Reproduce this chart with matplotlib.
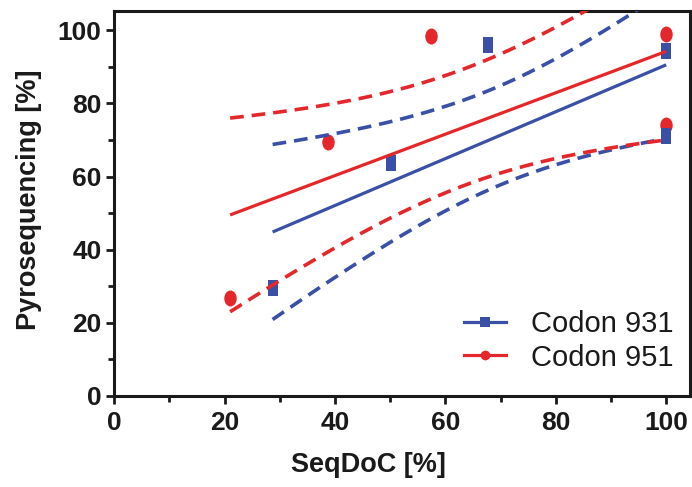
import numpy as np
import matplotlib
matplotlib.use('Agg')
import matplotlib.pyplot as plt
from matplotlib.path import Path
from matplotlib.transforms import Affine2D
from matplotlib.lines import Line2D
from matplotlib.ticker import MultipleLocator

# ---- data ----
series_names = ['Codon 931', 'Codon 951']
seqdoc_931 = [28.7, 50.2, 67.8, 100.0, 100.0]
pyro_931 = [29.6, 63.6, 95.9, 94.3, 71.0]
seqdoc_951 = [21.0, 38.8, 57.4, 100.0, 100.0]
pyro_951 = [26.7, 69.3, 98.4, 99.0, 74.2]
x_ticks = [0, 20, 40, 60, 80, 100]
y_ticks = [0, 20, 40, 60, 80, 100]
band_multiplier = 1.44

BLUE = '#3a4fa6'
RED = '#e4272b'

plt.rcParams['font.family'] = ['Liberation Sans', 'DejaVu Sans']

fig = plt.figure(figsize=(6.92, 4.87), dpi=100)
ax = fig.add_axes([0.165, 0.187, 0.832, 0.790])


def fit_band(x, y, mult):
    x = np.asarray(x, float)
    y = np.asarray(y, float)
    n = len(x)
    slope, intercept = np.polyfit(x, y, 1)
    xm = x.mean()
    sxx = ((x - xm) ** 2).sum()
    resid = y - (slope * x + intercept)
    s = np.sqrt((resid ** 2).sum() / (n - 2))
    xx = np.linspace(x.min(), x.max(), 200)
    yy = slope * xx + intercept
    hw = mult * s * np.sqrt(1.0 / n + (xx - xm) ** 2 / sxx)
    return xx, yy, yy - hw, yy + hw


sq_marker = Path([(-0.62, -1), (0.62, -1), (0.62, 1), (-0.62, 1), (-0.62, -1)],
                 [Path.MOVETO, Path.LINETO, Path.LINETO, Path.LINETO, Path.CLOSEPOLY])
circ_marker = Path.unit_circle().transformed(Affine2D().scale(0.78, 1.0))

# markers (red first, blue over it)
ax.plot(seqdoc_951, pyro_951, linestyle='none', marker=circ_marker, markersize=11.5,
        color=RED, markeredgewidth=0, zorder=3)
ax.plot(seqdoc_931, pyro_931, linestyle='none', marker=sq_marker, markersize=11.5,
        color=BLUE, markeredgewidth=0, zorder=4)

for xs, ys, col in [(seqdoc_931, pyro_931, BLUE), (seqdoc_951, pyro_951, RED)]:
    xx, yy, lo, hi = fit_band(xs, ys, band_multiplier)
    ax.plot(xx, yy, color=col, lw=2.3, solid_capstyle='butt', zorder=5)
    for band in (lo, hi):
        ax.plot(xx, band, color=col, lw=2.6, linestyle=(0, (3.8, 2.2)),
                dash_capstyle='butt', zorder=5)

ax.set_xlim(0, 104.3)
ax.set_ylim(0, 105.2)
ax.set_xticks(x_ticks)
ax.set_yticks(y_ticks)
ax.xaxis.set_minor_locator(MultipleLocator(10))
ax.yaxis.set_minor_locator(MultipleLocator(10))

for sp in ax.spines.values():
    sp.set_linewidth(2.2)
    sp.set_color('#1a1a1a')

ax.tick_params(axis='both', which='major', direction='out', length=6, width=2,
               color='#1a1a1a', labelsize=19, pad=3)
ax.tick_params(axis='x', which='major', pad=5)
ax.tick_params(axis='both', which='minor', direction='out', length=4, width=2,
               color='#1a1a1a')
for lab in ax.get_xticklabels() + ax.get_yticklabels():
    lab.set_fontweight('bold')
    lab.set_color('#1a1a1a')

ax.set_xlabel('SeqDoC [%]', fontsize=19.5, fontweight='bold', color='#1a1a1a')
ax.set_ylabel('Pyrosequencing [%]', fontsize=19.5, fontweight='bold', color='#1a1a1a')
ax.xaxis.set_label_coords(0.441, -0.145)
ax.yaxis.set_label_coords(-0.125, 0.51)

handles = [
    Line2D([], [], color=BLUE, lw=2.3, marker='s', markersize=7, markeredgewidth=0),
    Line2D([], [], color=RED, lw=2.3, marker='o', markersize=7, markeredgewidth=0),
]
leg = ax.legend(handles, series_names, loc='lower right', bbox_to_anchor=(0.971, 0.063),
                frameon=False, fontsize=21, handlelength=1.45, handletextpad=0.85,
                labelspacing=0.2, borderpad=0, borderaxespad=0)
for t in leg.get_texts():
    t.set_color('#1a1a1a')

fig.savefig('out.png', dpi=100)
